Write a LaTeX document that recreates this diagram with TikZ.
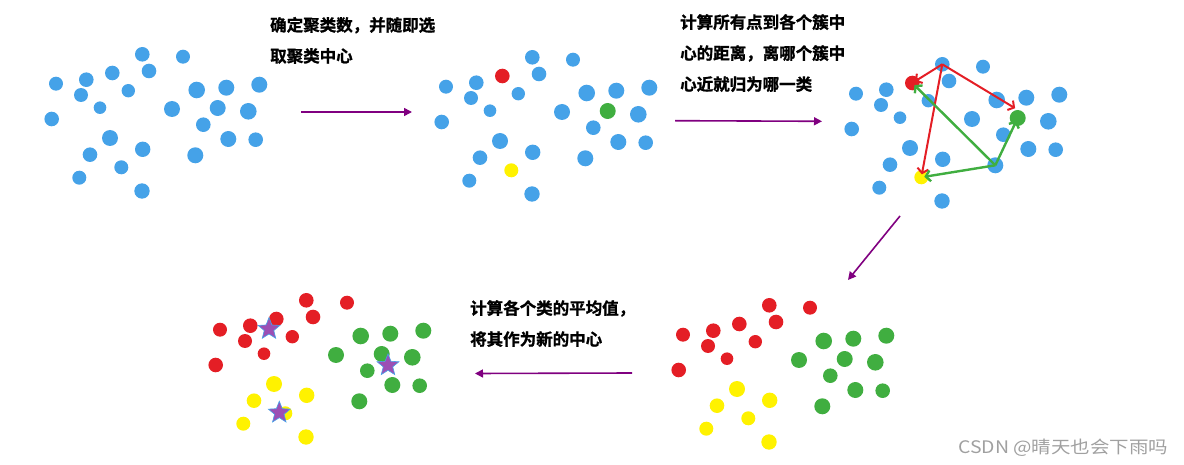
\documentclass[tikz,border=0pt]{standalone}
\usepackage{fontspec}
\usepackage{graphicx}
\newfontfamily\cjk{Noto Sans CJK SC}
\newfontfamily\cjkb{Noto Sans CJK SC Bold}[FakeBold=1.2]
\usetikzlibrary{arrows.meta,shapes.geometric}
\definecolor{kb}{HTML}{45A2E8}
\definecolor{kr}{HTML}{E41E25}
\definecolor{kg}{HTML}{40AE40}
\definecolor{ky}{HTML}{FFF200}
\definecolor{kpur}{HTML}{800080}
\definecolor{kstar}{HTML}{9C4FB4}
\definecolor{kmark}{HTML}{A0A0A0}
% x/y/radius/cluster colour/colour after the first step
\newcommand\dotlist{%
  142.3/54.3/7.3/kr/kb, 183/56.7/7/kr/kb, 56/83.7/7/kr/kb, 86.3/79.7/7.3/kr/kb,
  112.3/73/7.3/kr/kr, 149/71/7.3/kr/kb, 81/95/7/kr/kb, 128.3/90.7/6.7/kr/kb,
  100/107.7/6.3/kr/kb, 51.7/119/7.3/kr/kb,
  196.7/90/8.3/kg/kb, 226.3/87.7/8/kg/kb, 259.3/84.7/8/kg/kb, 172/109/8/kg/kb,
  217.7/108/8/kg/kg, 248.3/111.3/8.3/kg/kb, 203.3/124.7/7.3/kg/kb, 228.3/139/8/kg/kb,
  255.7/139.7/7.3/kg/kb, 195.3/155.3/8/kg/kb,
  110/138/8/ky/kb, 142.7/149.3/7.7/ky/kb, 90/154.7/7.3/ky/kb, 121.3/167.3/7/ky/ky,
  79.3/177.7/7/ky/kb, 142/191/7.7/ky/kb}
\tikzset{
  dot/.style={circle, inner sep=0pt, minimum size=2*#1},
  flow/.style={draw=kpur, line width=1.6pt, -{Triangle[length=8pt,width=8pt]}},
  guess/.style={line width=2pt, -{Straight Barb[length=4.5pt,width=11pt]}, shorten >=3pt},
  starmark/.style={star, star points=5, star point ratio=2.3, minimum size=23pt,
    inner sep=0pt, fill=kstar, draw=kb, line width=0.6pt},
  note/.style={anchor=north west, inner sep=0pt, align=left,
    font=\cjkb\fontsize{16.5}{31}\selectfont}
}
\begin{document}
\begin{tikzpicture}[x=1pt, y=-1pt]
  \useasboundingbox (0,0) rectangle (1184,465);
  % step 1: raw data
  \foreach \x/\y/\r/\c/\m [count=\i] in \dotlist
    \node[dot=\r, fill=kb] (p1-\i) at (\x,\y) {};
  % step 2: random centres
  \begin{scope}[shift={(390,3)}]
    \foreach \x/\y/\r/\c/\m [count=\i] in \dotlist
      \node[dot=\r, fill=\m] (p2-\i) at (\x,\y) {};
  \end{scope}
  % step 3: distances
  \begin{scope}[shift={(800,10)}]
    \foreach \x/\y/\r/\c/\m [count=\i] in \dotlist
      \node[dot=\r, fill=\m] (p3-\i) at (\x,\y) {};
  \end{scope}
  \begin{scope}[guess, draw=kr]
    \draw (p3-1.center) -- (p3-5.center);
    \draw (p3-1.center) -- (p3-15.north);
    \draw (p3-1.center) -- (p3-24.center);
  \end{scope}
  \begin{scope}[guess, draw=kg, line width=2.4pt]
    \draw (p3-20.center) -- (p3-5.center);
    \draw (p3-20.center) -- (p3-24.center);
    \draw (p3-20.center) -- (p3-15.center);
  \end{scope}
  % step 4: clusters
  \begin{scope}[shift={(627,251)}]
    \foreach \x/\y/\r/\c/\m [count=\i] in \dotlist
      \node[dot=\r, fill=\c] (p4-\i) at (\x,\y) {};
  \end{scope}
  % step 5: new centres
  \begin{scope}[shift={(164,246)}]
    \foreach \x/\y/\r/\c/\m [count=\i] in \dotlist
      \node[dot=\r, fill=\c] (p5-\i) at (\x,\y) {};
  \end{scope}
  \node[starmark] (s1) at (269,329) {};
  \node[starmark] (s2) at (388,365.3) {};
  \node[starmark] (s3) at (279.3,412.7) {};
  % arrows between the steps
  \coordinate (a1s) at (301,112);
  \coordinate (a1e) at (412,112);
  \coordinate (a2s) at (675,120.7);
  \coordinate (a2e) at (822,121.3);
  \coordinate (a3s) at (900,216);
  \coordinate (a3e) at (848,280);
  \coordinate (a4s) at (632,373);
  \coordinate (a4e) at (475,373.5);
  \draw[flow] (a1s) -- (a1e);
  \draw[flow] (a2s) -- (a2e);
  \draw[flow] (a3s) -- (a3e);
  \draw[flow] (a4s) -- (a4e);
  % texts
  \node[note] (t1) at (270,16.8) {确定聚类数，并随即选\\取聚类中心};
  \node[note] (t2) at (680,14) {计算所有点到各个簇中\\心的距离，离哪个簇中\\心近就归为哪一类};
  \node[note] (t3) at (470,300) {计算各个类的平均值，\\将其作为新的中心};
  \node[anchor=west, inner sep=0pt, text=kmark] (wm) at (958,447.7)
    {\resizebox{210pt}{14.5pt}{\cjk CSDN @晴天也会下雨吗}};
\end{tikzpicture}
\end{document}
